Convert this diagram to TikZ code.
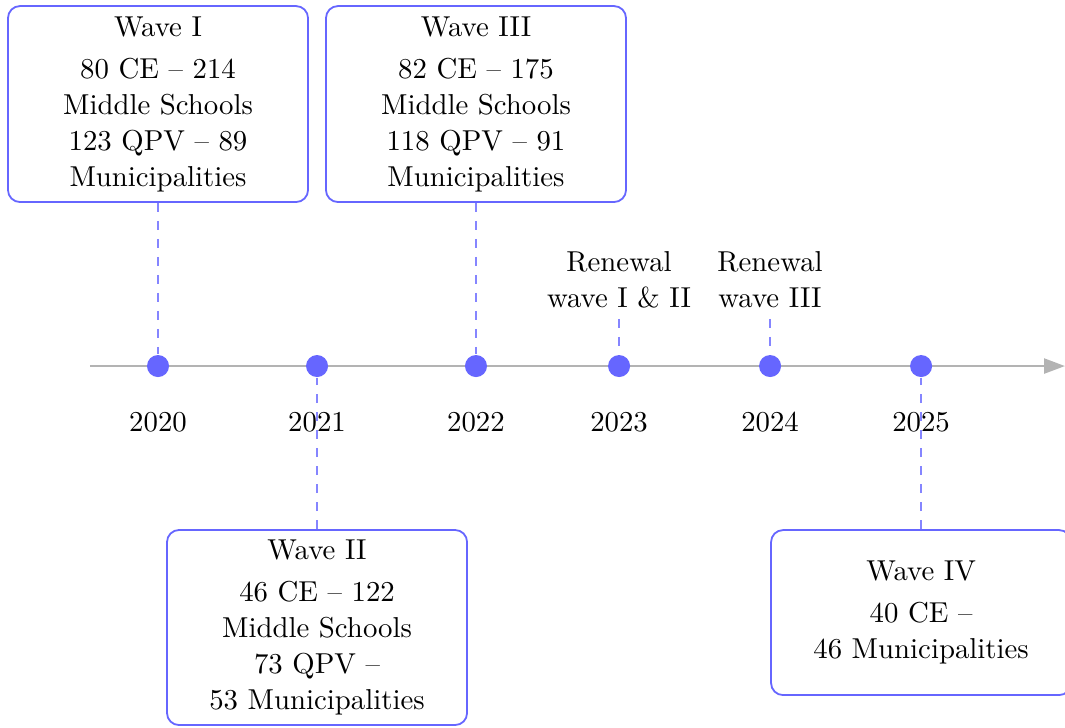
\documentclass[tikz,border=0pt]{standalone}
\usetikzlibrary{arrows.meta,positioning,calc}
\definecolor{wavepurple}{HTML}{6666FF}
\definecolor{axisgray}{HTML}{B3B3B3}

\begin{document}
\begin{tikzpicture}[every node/.style={font=\fontsize{9.6pt}{12pt}\selectfont},
  wavebox/.style={draw=wavepurple,semithick,rounded corners,fill=white,align=center,minimum width=3.515cm,inner sep=3pt},
  dot/.style={circle,fill=wavepurple,inner sep=0pt,minimum size=0.258cm},
  link/.style={draw=wavepurple!80,dashed,thin}]
\useasboundingbox (0,-4.229) rectangle (12.476,4.288);
\coordinate (start) at (1.054,0);
\coordinate (end) at (12.476,0);
\draw[axisgray,line width=0.8pt,-{Triangle[length=7pt,width=5pt]}] (start)--(end);
% years on the axis
\foreach \n/\x in {2020/1.851,2021/3.714,2022/5.576,2023/7.252,2024/9.021,2025/10.790}{
  \node[dot] (d\n) at (\x,0) {};
  \node (y\n) at (\x,-0.656) {\n};}
% waves
\node[wavebox,minimum height=2.296cm] (w1) at (1.851,3.069) {Wave I\\[2pt]80 CE -- 214\\Middle Schools\\123 QPV -- 89\\Municipalities};
\node[wavebox,minimum height=2.296cm] (w3) at (5.576,3.069) {Wave III\\[2pt]82 CE -- 175\\Middle Schools\\118 QPV -- 91\\Municipalities};
\node[wavebox,minimum height=2.285cm] (w2) at (3.714,-3.063) {Wave II\\[2pt]46 CE -- 122\\Middle Schools\\73 QPV --\\53 Municipalities};
\node[wavebox,minimum height=1.933cm] (w4) at (10.790,-2.888) {Wave IV\\[2pt]40 CE --\\46 Municipalities};
\node[align=center] (r1) at (7.252,1.007) {Renewal\\wave I \& II};
\node[align=center] (r2) at (9.021,1.007) {Renewal\\wave III};
\foreach \a/\b in {w1/d2020,w3/d2022,w2/d2021,w4/d2025,r1/d2023,r2/d2024}{\draw[link] (\a)--(\b);}
\end{tikzpicture}
\end{document}
